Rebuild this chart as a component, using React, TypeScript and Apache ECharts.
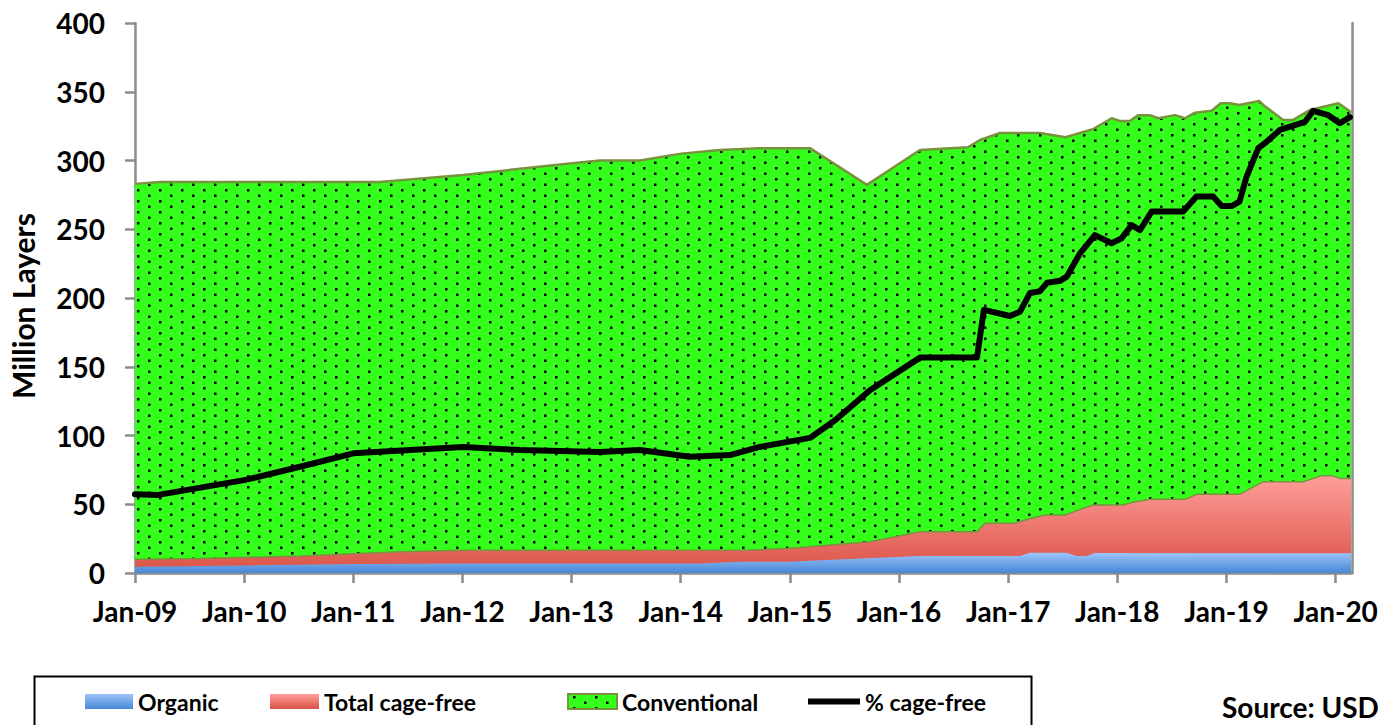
import React, { useEffect, useRef } from 'react';
import * as echarts from 'echarts';

// Total flock (top of the green area), million layers
const TOTAL_LAYERS: [string, number][] = [
  ['2009-01-01', 283], ['2009-03-23', 284.4], ['2011-03-28', 284.4], ['2012-01-03', 289.5],
  ['2013-01-02', 298], ['2013-04-05', 300], ['2013-08-16', 300], ['2014-01-02', 305],
  ['2014-05-10', 307.6], ['2014-09-22', 309], ['2015-03-07', 309], ['2015-09-15', 282.3],
  ['2016-03-10', 307.6], ['2016-08-18', 309.6], ['2016-09-28', 314.9], ['2016-12-04', 320],
  ['2017-04-16', 320], ['2017-07-10', 316.9], ['2017-10-10', 322.7], ['2017-12-12', 330.7],
  ['2018-01-09', 328.7], ['2018-02-12', 328.7], ['2018-03-10', 333], ['2018-04-18', 333],
  ['2018-05-16', 330.7], ['2018-07-11', 333], ['2018-08-14', 330.7], ['2018-09-17', 334.8],
  ['2018-11-12', 336.2], ['2018-12-12', 341.6], ['2019-01-12', 341.6], ['2019-02-14', 340.4],
  ['2019-04-19', 343.3], ['2019-05-02', 340.4], ['2019-07-08', 329.5], ['2019-08-11', 329.5],
  ['2019-10-06', 336.7], ['2020-01-10', 341.6], ['2020-02-12', 336.7], ['2020-02-22', 335],
];

// Total cage-free layers, million
const TOTAL_CAGE_FREE: [string, number][] = [
  ['2009-01-01', 10], ['2009-08-05', 10.5], ['2010-07-05', 12.4], ['2011-06-04', 15.5],
  ['2012-01-03', 16.5], ['2014-08-19', 16.7], ['2015-01-01', 18], ['2015-09-25', 22.8],
  ['2016-03-10', 30], ['2016-09-18', 30], ['2016-10-14', 36.1], ['2017-01-18', 36.1],
  ['2017-03-18', 39.8], ['2017-05-02', 42.2], ['2017-07-08', 42.2], ['2017-09-08', 47],
  ['2017-10-11', 49.5], ['2018-01-20', 49.5], ['2018-02-22', 51.4], ['2018-04-18', 53.6],
  ['2018-08-14', 53.6], ['2018-09-22', 57.2], ['2019-02-14', 57.2], ['2019-05-02', 66.4],
  ['2019-09-14', 66.4], ['2019-11-15', 70.8], ['2019-12-18', 70.8], ['2020-01-15', 68.8],
  ['2020-02-22', 68.8],
];

// Organic layers, million
const ORGANIC: [string, number][] = [
  ['2009-01-01', 4.6], ['2010-01-01', 5.5], ['2011-01-01', 6.5], ['2012-01-01', 7],
  ['2014-03-04', 7], ['2014-07-16', 8.2], ['2015-01-01', 8.2], ['2015-05-01', 9.5],
  ['2016-03-10', 12.4], ['2017-02-10', 12.4], ['2017-03-13', 14.8], ['2017-07-14', 14.8],
  ['2017-08-17', 12.4], ['2017-09-20', 12.4], ['2017-10-17', 14.5], ['2020-02-22', 14.3],
];

// Share of cage-free layers, percent (hidden 0–25 % axis)
const PCT_CAGE_FREE: [string, number][] = [
  ['2009-01-01', 3.58], ['2009-03-13', 3.54], ['2010-01-01', 4.22], ['2010-07-05', 4.83],
  ['2011-01-01', 5.44], ['2011-03-28', 5.51], ['2012-01-03', 5.73], ['2012-07-10', 5.59],
  ['2013-04-05', 5.5], ['2013-08-16', 5.59], ['2014-02-01', 5.28], ['2014-06-13', 5.36],
  ['2014-09-22', 5.73], ['2015-03-07', 6.14], ['2015-05-30', 6.94], ['2015-09-25', 8.31],
  ['2016-03-10', 9.79], ['2016-09-18', 9.79], ['2016-10-11', 11.96], ['2017-01-07', 11.68],
  ['2017-02-10', 11.88], ['2017-03-13', 12.73], ['2017-04-16', 12.81], ['2017-05-09', 13.19],
  ['2017-06-22', 13.28], ['2017-07-14', 13.47], ['2017-08-28', 14.53], ['2017-10-17', 15.36],
  ['2017-12-12', 14.99], ['2018-01-15', 15.21], ['2018-02-18', 15.81], ['2018-03-16', 15.59],
  ['2018-04-24', 16.43], ['2018-08-08', 16.43], ['2018-09-22', 17.11], ['2018-11-17', 17.11],
  ['2018-12-15', 16.68], ['2019-01-18', 16.68], ['2019-02-14', 16.88], ['2019-03-07', 18.01],
  ['2019-04-16', 19.31], ['2019-05-14', 19.61], ['2019-06-27', 20.14], ['2019-07-31', 20.29],
  ['2019-09-20', 20.51], ['2019-10-17', 21.01], ['2019-12-07', 20.81], ['2020-01-15', 20.44],
  ['2020-02-18', 20.72],
];

const X_TICK_LABELS = ['Jan-09', 'Jan-10', 'Jan-11', 'Jan-12', 'Jan-13', 'Jan-14', 'Jan-15',
  'Jan-16', 'Jan-17', 'Jan-18', 'Jan-19', 'Jan-20'];

const LEGEND_NAMES = ['Organic', 'Total cage-free', 'Conventional', '% cage-free'];

const SOURCE_TEXT = 'Source: USD';

const START_YEAR = 2009;
const X_MAX_MONTHS = 133.8;

function toMonths(s: string): number {
  const [y, m, d] = s.split('-').map(Number);
  return (y - START_YEAR) * 12 + (m - 1) + (d - 1) / 30;
}
const conv = (arr: [string, number][]) => arr.map(([d, v]) => [toMonths(d), v]);

const FONT = 'Lato';

export default function App() {
  const ref = useRef<HTMLDivElement>(null);

  useEffect(() => {
    document.body.style.margin = '0';
    if (!ref.current) return;
    const chart = echarts.init(ref.current, undefined, { renderer: 'svg' });

    const c = document.createElement('canvas');
    c.width = 22;
    c.height = 11;
    const ctx = c.getContext('2d')!;
    ctx.fillStyle = '#33FF1A';
    ctx.fillRect(0, 0, 22, 11);
    ctx.fillStyle = '#000000';
    ctx.fillRect(5, 2, 2.5, 2.5);
    ctx.fillRect(16, 7.5, 2.5, 2.5);
    const greenPattern: any = { image: c, repeat: 'repeat', imageWidth: 22, imageHeight: 11 };

    const redGrad = new echarts.graphic.LinearGradient(0, 0, 0, 1, [
      { offset: 0, color: '#FF9E9A' },
      { offset: 1, color: '#DA5246' },
    ]);
    const blueGrad = new echarts.graphic.LinearGradient(0, 0, 0, 1, [
      { offset: 0, color: '#9DC4FB' },
      { offset: 1, color: '#4787D6' },
    ]);

    const tickVals = X_TICK_LABELS.map((_, i) => i * 12);
    const axisGray = '#8C8C8C';
    const legendText = { fontFamily: FONT, fontWeight: 'bold', fontSize: 23, color: '#000', lineHeight: 24 };

    const mkLegend = (left: number, name: string, iw: number, ih: number, itemStyle: any) => ({
      left, top: 689.5, padding: 0, itemWidth: iw, itemHeight: ih, selectedMode: false,
      textStyle: legendText,
      data: [{ name, icon: 'rect', itemStyle }],
    });

    chart.setOption({
      animation: false,
      backgroundColor: '#ffffff',
      grid: { left: 135, right: 34, top: 23, bottom: 152, containLabel: false },
      xAxis: {
        type: 'value', min: 0, max: X_MAX_MONTHS, interval: 12,
        axisLine: { show: true, lineStyle: { color: axisGray, width: 2.5 } },
        axisTick: { show: true, length: 10, lineStyle: { color: axisGray, width: 2.5 }, customValues: tickVals },
        axisLabel: {
          customValues: tickVals,
          formatter: (v: number) => (Math.abs(v % 12) < 1e-6 ? X_TICK_LABELS[Math.round(v / 12)] ?? '' : ''),
          fontFamily: FONT, fontWeight: 'bold', fontSize: 28, color: '#000', margin: 24,
        },
        splitLine: { show: false },
      },
      yAxis: [
        {
          type: 'value', min: 0, max: 400, interval: 50,
          name: 'Million Layers', nameLocation: 'middle', nameGap: 97, nameRotate: 90,
          nameTextStyle: { fontFamily: FONT, fontWeight: 'bold', fontSize: 30, color: '#000', padding: [0, 16, 0, 0] },
          axisLine: { show: true, lineStyle: { color: axisGray, width: 2.5 } },
          axisTick: { show: true, length: 10, lineStyle: { color: axisGray, width: 2.5 } },
          axisLabel: { fontFamily: FONT, fontWeight: 'bold', fontSize: 28, color: '#000', margin: 30 },
          splitLine: { show: false },
        },
        {
          type: 'value', min: 0, max: 25, interval: 5, position: 'right',
          axisLine: { show: true, lineStyle: { color: axisGray, width: 2.5 } },
          axisTick: { show: false }, axisLabel: { show: false }, splitLine: { show: false },
        },
      ],
      legend: [
        mkLegend(85, LEGEND_NAMES[0], 48, 15, { color: blueGrad, borderWidth: 0 }),
        mkLegend(270, LEGEND_NAMES[1], 49, 15, { color: redGrad, borderWidth: 0 }),
        mkLegend(567, LEGEND_NAMES[2], 49, 15, { color: greenPattern, borderColor: '#77933C', borderWidth: 2 }),
        mkLegend(808, LEGEND_NAMES[3], 52, 6, { color: '#000', borderWidth: 0 }),
      ],
      series: [
        {
          name: 'Conventional', type: 'line', data: conv(TOTAL_LAYERS), symbol: 'none', z: 1,
          lineStyle: { color: '#77933C', width: 2.5 },
          itemStyle: { color: '#33FF1A' },
          areaStyle: { color: greenPattern, opacity: 1 },
        },
        {
          name: 'Total cage-free', type: 'line', data: conv(TOTAL_CAGE_FREE), symbol: 'none', z: 2,
          lineStyle: { color: '#77933C', width: 1.5 },
          itemStyle: { color: '#FF9E9A' },
          areaStyle: { color: redGrad, opacity: 1 },
        },
        {
          name: 'Organic', type: 'line', data: conv(ORGANIC), symbol: 'none', z: 3,
          lineStyle: { width: 0, color: '#9DC4FB' },
          itemStyle: { color: '#9DC4FB' },
          areaStyle: { color: blueGrad, opacity: 1 },
        },
        {
          name: '% cage-free', type: 'line', yAxisIndex: 1, data: conv(PCT_CAGE_FREE), symbol: 'none', z: 4,
          lineStyle: { color: '#000', width: 6, join: 'round', cap: 'round' },
          itemStyle: { color: '#000' },
        },
      ],
      graphic: [
        {
          type: 'rect', left: 32, top: 674, silent: true,
          shape: { x: 0, y: 0, width: 997, height: 80 },
          style: { fill: 'none', stroke: '#000', lineWidth: 2 },
        },
        {
          type: 'text', x: 1222, y: 707, silent: true,
          style: {
            text: SOURCE_TEXT, fill: '#000', fontFamily: FONT, fontWeight: 'bold', fontSize: 28,
            verticalAlign: 'middle', align: 'left',
          },
        },
      ],
    });

    return () => chart.dispose();
  }, []);

  return <div ref={ref} style={{ width: 1386, height: 725 }} />;
}
